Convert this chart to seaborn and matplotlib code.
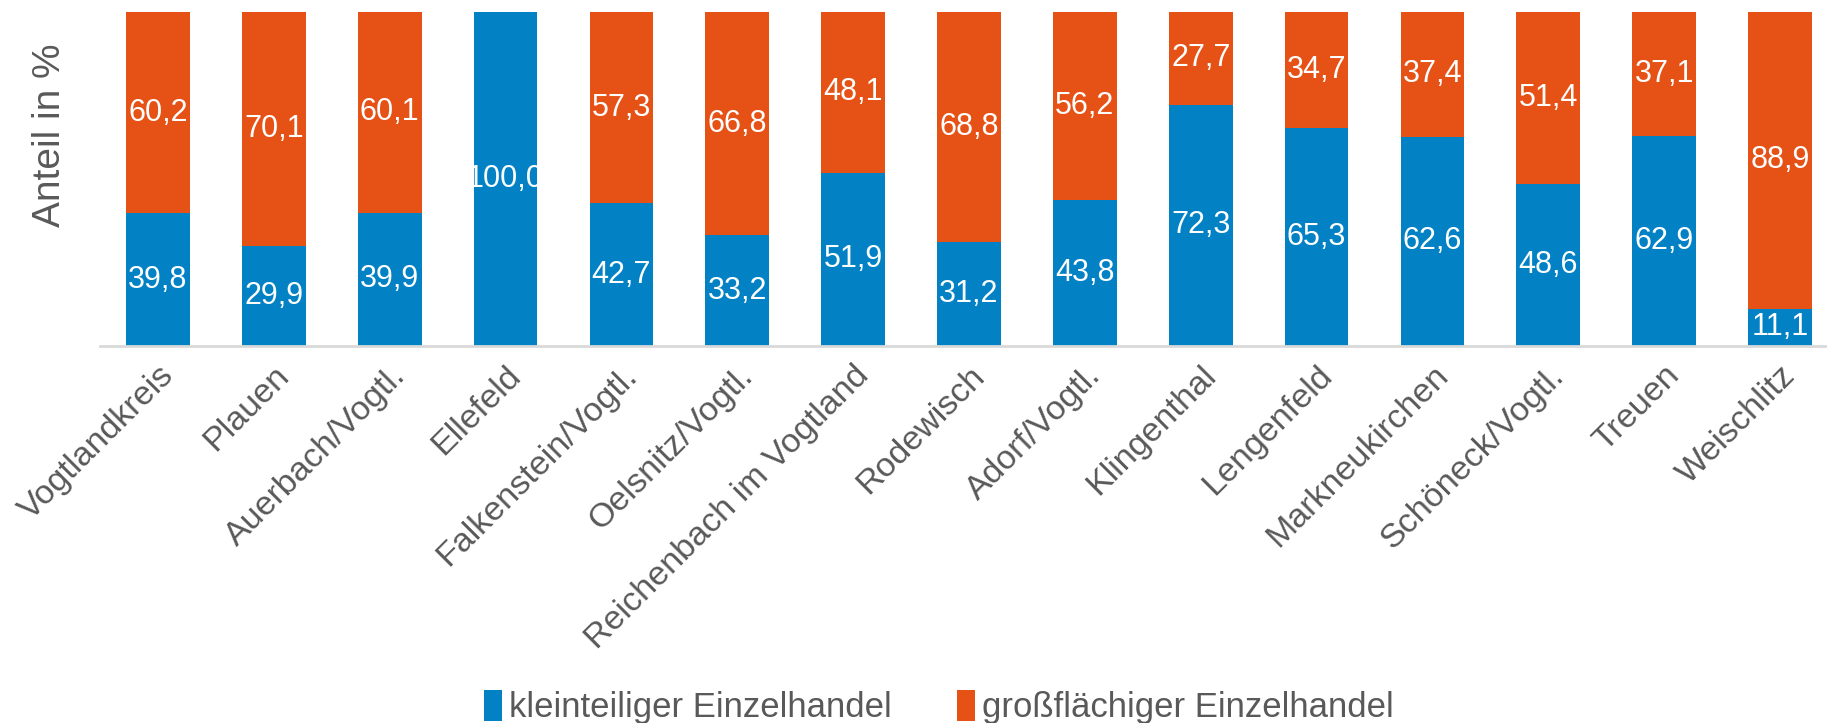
import matplotlib
matplotlib.use("Agg")
import matplotlib.pyplot as plt
import seaborn as sns
import pandas as pd
from matplotlib.patches import Patch

# Gemeinden im Vogtlandkreis
orte = ["Vogtlandkreis", "Plauen", "Auerbach/Vogtl.", "Ellefeld", "Falkenstein/Vogtl.",
        "Oelsnitz/Vogtl.", "Reichenbach im Vogtland", "Rodewisch", "Adorf/Vogtl.",
        "Klingenthal", "Lengenfeld", "Markneukirchen", "Schöneck/Vogtl.", "Treuen",
        "Weischlitz"]
kleinteilig = [39.8, 29.9, 39.9, 100.0, 42.7, 33.2, 51.9, 31.2, 43.8, 72.3, 65.3, 62.6, 48.6, 62.9, 11.1]
grossflaechig = [60.2, 70.1, 60.1, 0.0, 57.3, 66.8, 48.1, 68.8, 56.2, 27.7, 34.7, 37.4, 51.4, 37.1, 88.9]
serien = ["kleinteiliger Einzelhandel", "großflächiger Einzelhandel"]

BLAU = "#0282C5"
ORANGE = "#E65216"
GRAU = "#595959"

df = pd.DataFrame({"Ort": orte, "klein": kleinteilig, "gross": grossflaechig})
df["gesamt"] = df["klein"] + df["gross"]

sns.set_style("white")
plt.rcParams["font.family"] = ["Liberation Sans", "DejaVu Sans"]

fig = plt.figure(figsize=(18.27, 7.23), dpi=100)
ax = fig.add_axes([100 / 1827, 1 - 346 / 723, 1 - 100 / 1827, (346 - 12) / 723])

# Stapel: Gesamthöhe in Orange, darüber der kleinteilige Anteil in Blau
sns.barplot(data=df, x="Ort", y="gesamt", color=ORANGE, saturation=1, width=0.55,
            linewidth=0, ax=ax)
sns.barplot(data=df, x="Ort", y="klein", color=BLAU, saturation=1, width=0.55,
            linewidth=0, ax=ax)

for i, (k, g) in enumerate(zip(kleinteilig, grossflaechig)):
    ax.text(i, k / 2, f"{k:.1f}".replace(".", ","), ha="center", va="center",
            color="white", fontsize=22)
    if g > 0:
        ax.text(i, k + g / 2, f"{g:.1f}".replace(".", ","), ha="center", va="center",
                color="white", fontsize=22)

ax.set_ylim(0, 100)
ax.set_xlim(-0.5, 14.405)
ax.set_xlabel("")
ax.set_ylabel("")
ax.set_yticks([])
ax.tick_params(axis="x", length=0, pad=10)
ax.set_xticks(range(len(orte)))
ax.set_xticklabels(orte, rotation=45, ha="right", rotation_mode="anchor",
                   fontsize=24.5, color=GRAU)
for s in ["top", "right", "left"]:
    ax.spines[s].set_visible(False)
ax.spines["bottom"].set_color("#D9D9D9")
ax.spines["bottom"].set_linewidth(2)

fig.text(50 / 1827, 1 - 135 / 723, "Anteil in %", rotation=90, ha="center", va="center",
         fontsize=28, color=GRAU)

handles = [Patch(facecolor=BLAU, edgecolor="none"), Patch(facecolor=ORANGE, edgecolor="none")]
fig.legend(handles, serien, loc="center", bbox_to_anchor=(939 / 1827, 1 - 707 / 723),
           ncol=2, frameon=False, fontsize=25, labelcolor=GRAU,
           handlelength=0.5, handleheight=1.0, handletextpad=0.2, columnspacing=1.9)

fig.savefig("out.png", dpi=100)
